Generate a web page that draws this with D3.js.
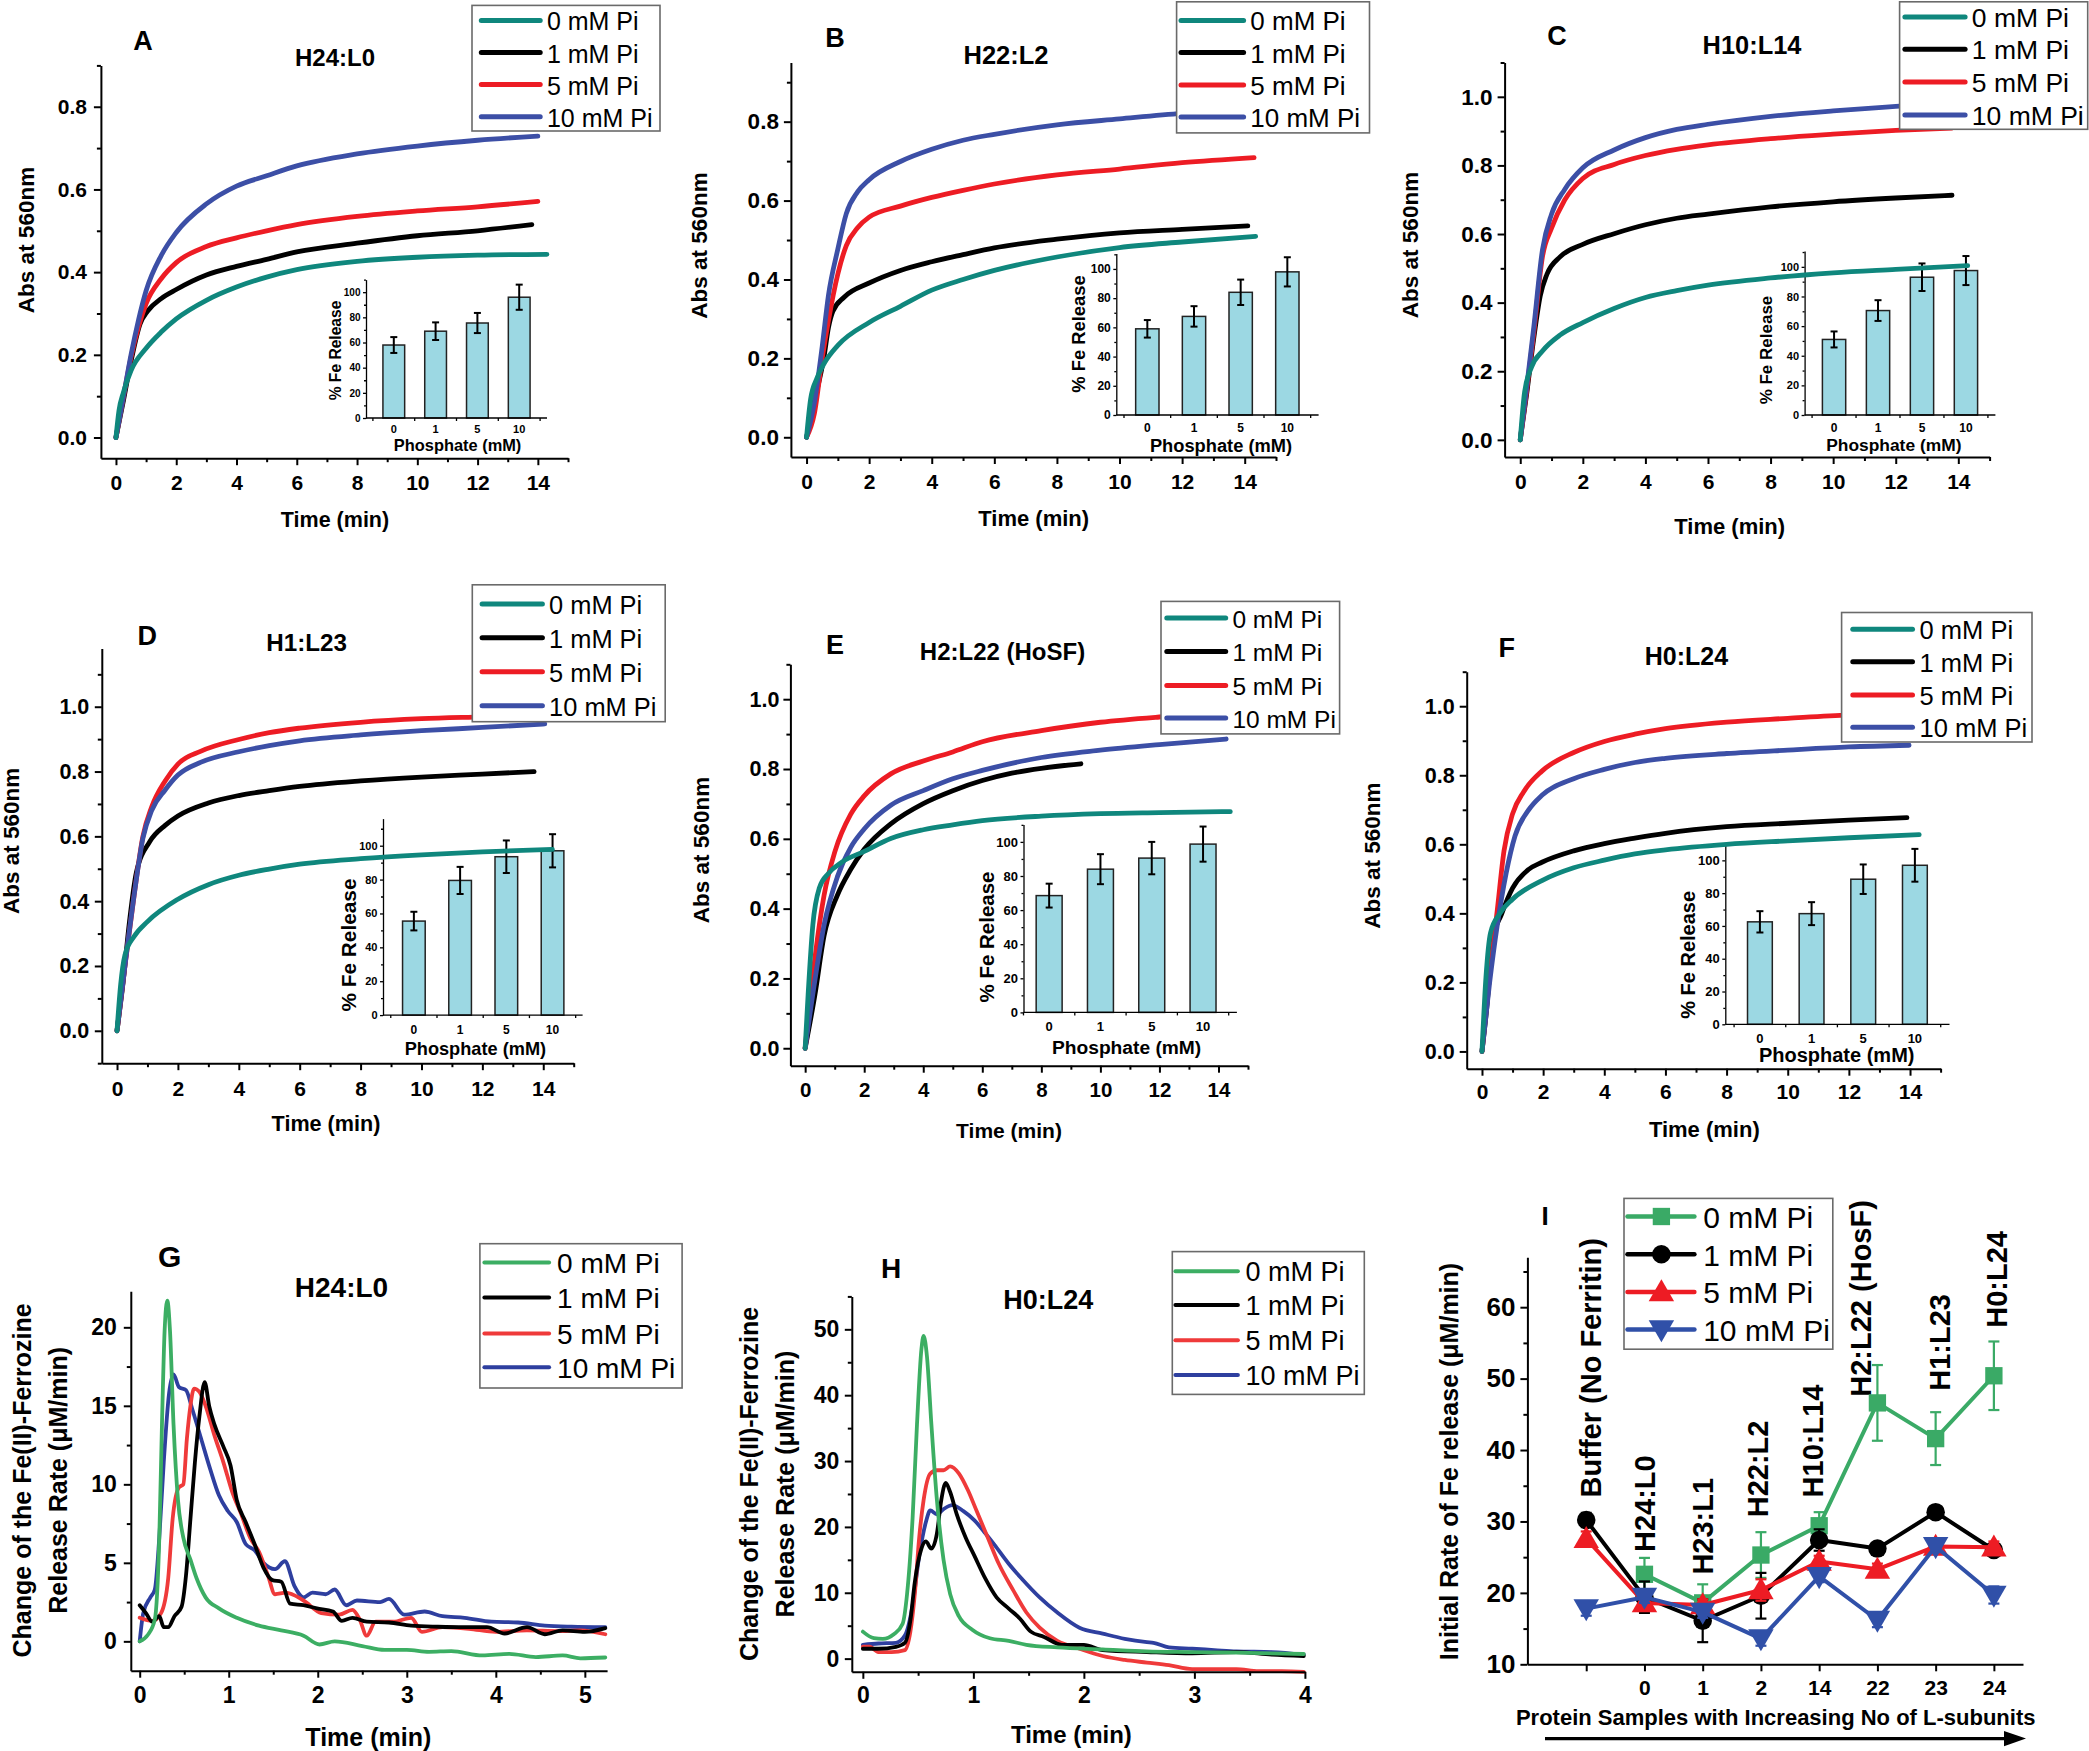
<!DOCTYPE html>
<html><head><meta charset="utf-8">
<script src="https://cdn.jsdelivr.net/npm/d3@7"></script>
<style>
body{margin:0;background:#fff}
svg{display:block}
</style>
</head><body>
<svg id="c" width="2089" height="1751"></svg>
<script>
// ======================= DATA =======================
const piLabels = ["0 mM Pi", "1 mM Pi", "5 mM Pi", "10 mM Pi"];
const phosphateLabels = ["0", "1", "5", "10"];

// Panel A  (H24:L0)  [time (min), Abs 560nm]
const A_pi0 = [[0,0],[0.1,0.065],[0.25,0.11],[0.5,0.162],[1,0.216],[1.5,0.255],[2,0.287],[3,0.332],[4,0.364],[5,0.388],[6,0.406],[8,0.426],[10,0.436],[12,0.441],[14.3,0.443]];
const A_pi1 = [[0,0],[0.25,0.09],[0.5,0.185],[0.8,0.275],[1.05,0.306],[1.5,0.336],[2,0.358],[3,0.393],[4,0.414],[5,0.431],[6,0.449],[8,0.47],[10,0.488],[12,0.5],[13.8,0.515]];
const A_pi5 = [[0,0],[0.25,0.099],[0.5,0.194],[0.75,0.268],[1,0.324],[1.5,0.384],[2,0.423],[3,0.462],[4,0.483],[5,0.5],[6,0.515],[8,0.535],[10,0.548],[12,0.558],[14,0.571]];
const A_pi10 = [[0,0],[0.25,0.1],[0.5,0.2],[0.75,0.285],[1,0.355],[1.5,0.44],[2,0.496],[3,0.565],[4,0.608],[5,0.633],[6,0.657],[8,0.686],[10,0.705],[12,0.719],[14,0.729]];
const A_release = [58, 69, 75.5, 96];
const A_releaseErr = [6.3, 7, 8, 10];

// Panel B  (H22:L2)
const B_pi0 = [[0,0],[0.13,0.097],[0.34,0.151],[0.56,0.187],[1,0.233],[2,0.291],[3,0.332],[4,0.373],[5,0.4],[6,0.423],[8,0.457],[10,0.481],[12,0.495],[14.35,0.509]];
const B_pi1 = [[0,0],[0.25,0.09],[0.56,0.205],[0.7,0.278],[0.84,0.319],[1.2,0.355],[2,0.391],[3,0.423],[4,0.445],[5,0.463],[6,0.48],[8,0.502],[10,0.518],[12,0.527],[14.1,0.536]];
const B_pi5 = [[0,0],[0.25,0.06],[0.5,0.2],[0.7,0.296],[1,0.414],[1.27,0.486],[1.63,0.531],[2,0.558],[3,0.586],[4,0.608],[5,0.626],[6,0.642],[8,0.665],[10,0.68],[12,0.696],[14.3,0.709]];
const B_pi10 = [[0,0],[0.25,0.088],[0.5,0.23],[0.7,0.36],[1,0.477],[1.27,0.567],[1.63,0.622],[2,0.653],[3,0.699],[4,0.73],[5,0.753],[6,0.768],[8,0.792],[10,0.807],[12,0.821],[14,0.83]];
const B_release = [59, 67.5, 84, 98];
const B_releaseErr = [6, 7, 8.7, 10];

// Panel C  (H10:L14)
const C_pi0 = [[0,0],[0.14,0.14],[0.36,0.212],[0.71,0.259],[1.28,0.306],[2,0.342],[3,0.383],[4,0.415],[5,0.435],[6,0.451],[8,0.472],[10,0.487],[12,0.497],[14.3,0.508]];
const C_pi1 = [[0,0],[0.2,0.13],[0.43,0.295],[0.64,0.42],[0.85,0.482],[1.28,0.534],[2,0.57],[3,0.601],[4,0.627],[5,0.646],[6,0.658],[8,0.679],[10,0.694],[12,0.705],[13.8,0.713]];
const C_pi5 = [[0,0],[0.2,0.14],[0.43,0.31],[0.71,0.534],[1,0.617],[1.42,0.699],[2,0.762],[3,0.803],[4,0.829],[5,0.847],[6,0.86],[8,0.878],[10,0.891],[12,0.902],[13.8,0.909]];
const C_pi10 = [[0,0],[0.2,0.15],[0.43,0.326],[0.71,0.554],[1,0.658],[1.42,0.73],[2,0.793],[3,0.845],[4,0.881],[5,0.905],[6,0.92],[8,0.943],[10,0.959],[12,0.972],[14,0.984]];
const C_release = [51, 70.5, 93, 97.5];
const C_releaseErr = [5.4, 7, 9.3, 9.8];

// Panel D  (H1:L23)
const D_pi0 = [[0,0],[0.12,0.143],[0.26,0.234],[0.56,0.291],[1,0.337],[2,0.406],[3,0.451],[4,0.48],[5,0.499],[6,0.514],[8,0.531],[10,0.543],[12,0.552],[14.3,0.56]];
const D_pi1 = [[0,0],[0.2,0.15],[0.41,0.337],[0.63,0.486],[1.07,0.583],[1.58,0.634],[2,0.663],[3,0.703],[4,0.726],[5,0.741],[6,0.754],[8,0.771],[10,0.783],[12,0.792],[13.7,0.8]];
const D_pi5 = [[0,0],[0.26,0.2],[0.56,0.417],[0.85,0.6],[1.14,0.691],[1.58,0.771],[2,0.823],[2.76,0.863],[4,0.899],[5,0.92],[6,0.934],[8,0.952],[10,0.963],[12,0.969],[14,0.975]];
const D_pi10 = [[0,0],[0.26,0.2],[0.56,0.417],[0.85,0.594],[1.14,0.68],[1.58,0.743],[2,0.789],[2.76,0.829],[4,0.861],[5,0.88],[6,0.895],[8,0.913],[10,0.926],[12,0.936],[14.05,0.947]];
const D_release = [55.5, 79.5, 93.5, 97];
const D_releaseErr = [5.5, 8, 9.6, 9.8];

// Panel E  (H2:L22, HoSF)
const E_pi0 = [[0,0],[0.1,0.153],[0.26,0.353],[0.48,0.459],[0.79,0.501],[1.24,0.533],[2,0.564],[2.9,0.601],[4,0.626],[5,0.64],[6,0.652],[8,0.665],[10,0.672],[12,0.675],[14.4,0.678]];
const E_pi1 = [[0,0],[0.33,0.153],[0.64,0.322],[1.09,0.438],[1.54,0.512],[2,0.57],[2.9,0.643],[4,0.701],[5,0.738],[6,0.767],[7,0.788],[8,0.802],[9.34,0.815]];
const E_pi5 = [[0,0],[0.33,0.258],[0.64,0.438],[1.01,0.564],[1.54,0.67],[2,0.723],[2.9,0.786],[4,0.823],[5,0.849],[6,0.878],[8,0.91],[10,0.934],[12,0.949],[14,0.96]];
const E_pi10 = [[0,0],[0.33,0.195],[0.64,0.353],[1.09,0.491],[1.54,0.575],[2,0.628],[2.9,0.696],[4,0.738],[5,0.772],[6,0.796],[8,0.833],[10,0.854],[12,0.87],[14.26,0.886]];
const E_release = [68.5, 84, 90.5, 98.7];
const E_releaseErr = [7, 8.8, 9.5, 10.3];

// Panel F  (H0:L24)
const F_pi0 = [[0,0],[0.13,0.215],[0.28,0.344],[0.57,0.398],[1,0.441],[1.96,0.495],[3,0.532],[4,0.554],[5,0.572],[6,0.584],[8,0.6],[10,0.61],[12,0.619],[14.3,0.628]];
const F_pi1 = [[0,0],[0.15,0.12],[0.35,0.323],[0.64,0.398],[1,0.473],[1.52,0.527],[1.96,0.548],[3,0.581],[4,0.602],[5,0.618],[6,0.632],[8,0.651],[10,0.661],[12,0.67],[13.9,0.677]];
const F_pi5 = [[0,0],[0.25,0.22],[0.5,0.409],[0.72,0.581],[1,0.688],[1.37,0.753],[1.96,0.812],[3,0.866],[4,0.898],[5,0.919],[6,0.935],[8,0.954],[10,0.965],[12,0.975],[14,0.98]];
const F_pi10 = [[0,0],[0.25,0.2],[0.5,0.366],[0.79,0.516],[1.08,0.624],[1.52,0.699],[1.96,0.742],[3,0.79],[4,0.817],[5,0.837],[6,0.849],[8,0.863],[10,0.873],[12,0.882],[13.97,0.887]];
const F_release = [62.5, 67.5, 88.5, 97];
const F_releaseErr = [6.5, 7, 9, 10];

// Panel G  (rate, H24:L0)  [time (min), µM/min]
const G_pi0 = [[0,0],[0.09,0.4],[0.17,1.4],[0.22,6.6],[0.25,13.8],[0.28,19.8],[0.31,21.7],[0.34,19.8],[0.38,13.8],[0.43,9.0],[0.49,6.6],[0.57,5.2],[0.64,4.0],[0.74,2.8],[0.89,2.1],[1.09,1.5],[1.34,1.0],[1.59,0.7],[1.84,0.36],[2.02,-0.2],[2.19,0],[2.5,-0.3],[2.75,-0.55],[3.0,-0.55],[3.25,-0.67],[3.5,-0.62],[3.85,-0.9],[4.15,-0.8],[4.45,-1.0],[4.75,-0.9],[4.95,-1.08],[5.23,-1.03]];
const G_pi1 = [[0,2.3],[0.07,1.8],[0.14,1.25],[0.22,1.6],[0.27,0.9],[0.32,0.9],[0.39,1.6],[0.47,2.2],[0.52,4.2],[0.57,7.8],[0.62,11.4],[0.67,14.3],[0.73,16.5],[0.78,15.0],[0.84,13.8],[0.94,12.4],[1.02,11.2],[1.09,9.0],[1.19,7.6],[1.29,6.2],[1.39,4.7],[1.49,3.9],[1.59,3.8],[1.69,2.4],[1.84,2.3],[1.99,2.1],[2.17,1.9],[2.27,1.3],[2.39,1.5],[2.55,1.25],[2.8,1.2],[3.05,1.0],[3.35,0.93],[3.65,0.9],[3.9,0.9],[4.1,0.5],[4.35,0.9],[4.55,0.45],[4.75,0.7],[5.0,0.6],[5.23,0.84]];
const G_pi5 = [[0,1.5],[0.14,1.3],[0.24,1.8],[0.32,4.0],[0.37,7.8],[0.44,9.8],[0.49,10.0],[0.53,12.9],[0.57,15.0],[0.61,16.1],[0.67,15.9],[0.74,15.0],[0.84,13.1],[0.94,11.4],[1.04,9.5],[1.14,8.1],[1.24,6.6],[1.34,5.7],[1.44,4.2],[1.52,3.0],[1.64,3.1],[1.84,2.6],[2.04,1.8],[2.24,1.7],[2.39,2.0],[2.47,1.4],[2.55,0.36],[2.65,1.25],[2.85,1.25],[3.05,1.5],[3.17,0.6],[3.4,0.9],[3.7,0.8],[4.0,0.6],[4.35,0.7],[4.7,0.65],[4.95,0.7],[5.23,0.45]];
const G_pi10 = [[0,0],[0.04,1.8],[0.12,2.8],[0.17,3.3],[0.22,6.6],[0.27,11.4],[0.33,15.8],[0.38,17.0],[0.44,16.2],[0.52,16.0],[0.59,14.8],[0.69,12.9],[0.79,11.0],[0.89,9.3],[0.99,8.3],[1.09,7.6],[1.19,6.2],[1.29,5.8],[1.39,5.0],[1.52,4.6],[1.63,5.1],[1.74,3.5],[1.84,2.8],[1.94,3.1],[2.09,3.0],[2.19,3.3],[2.32,2.3],[2.44,2.6],[2.7,2.5],[2.8,2.7],[2.97,1.7],[3.2,1.9],[3.4,1.6],[3.65,1.5],[3.95,1.25],[4.25,1.2],[4.55,1.0],[4.85,0.93],[5.23,0.9]];

// Panel H  (rate, H0:L24)
const H_pi0 = [[0,4.1],[0.1,3.1],[0.18,3.0],[0.28,3.7],[0.36,5.3],[0.4,9.8],[0.45,21.3],[0.49,35.6],[0.53,47],[0.55,49],[0.58,45.9],[0.62,35.6],[0.67,24.1],[0.73,15.0],[0.79,9.8],[0.87,6.4],[0.99,4.4],[1.15,3.1],[1.32,2.7],[1.48,2.1],[1.76,1.7],[2.17,1.4],[2.57,1.1],[2.98,1.0],[3.38,0.9],[3.99,0.7]];
const H_pi1 = [[0,1.5],[0.14,1.5],[0.3,1.8],[0.38,2.4],[0.43,5.8],[0.47,11.6],[0.53,16.7],[0.57,17.8],[0.62,16.7],[0.67,19.0],[0.71,24.1],[0.75,26.7],[0.79,25.3],[0.85,21.9],[0.93,18.4],[1.01,15.6],[1.11,12.1],[1.21,9.3],[1.32,7.6],[1.42,6.1],[1.52,4.1],[1.64,3.3],[1.8,2.1],[2.0,2.1],[2.17,1.3],[2.57,1.0],[2.98,0.8],[3.38,1.0],[3.7,0.6],[3.99,0.4]];
const H_pi5 = [[0,1.8],[0.06,1.8],[0.14,1.0],[0.26,1.0],[0.38,1.3],[0.43,4.1],[0.47,9.8],[0.51,18.4],[0.55,24.1],[0.61,28.1],[0.67,28.6],[0.73,28.6],[0.79,29.2],[0.87,28.1],[0.95,25.6],[1.03,22.4],[1.13,18.4],[1.23,14.4],[1.36,10.4],[1.48,7.0],[1.6,4.7],[1.76,2.7],[1.96,1.5],[2.17,0.4],[2.37,-0.2],[2.57,-0.6],[2.77,-1.0],[2.98,-1.6],[3.18,-1.6],[3.38,-1.6],[3.58,-1.9],[3.79,-1.9],[3.99,-2.0]];
const H_pi10 = [[0,2.1],[0.14,2.3],[0.3,2.4],[0.38,3.5],[0.45,8.1],[0.51,15.6],[0.57,20.7],[0.61,22.5],[0.67,21.9],[0.73,22.7],[0.81,23.3],[0.91,22.4],[1.01,21.0],[1.11,19.0],[1.19,17.3],[1.32,14.4],[1.44,12.1],[1.6,9.3],[1.76,7.0],[1.96,4.7],[2.17,3.8],[2.37,3.0],[2.57,2.5],[2.63,2.4],[2.77,1.7],[2.98,1.5],[3.18,1.3],[3.38,1.1],[3.7,1.0],[3.99,0.6]];

// Panel I  (initial rates)
const I_tickLabels = ["", "0", "1", "2", "14", "22", "23", "24"];
const I_samples = ["Buffer (No Ferritin)", "H24:L0", "H23:L1", "H22:L2", "H10:L14", "H2:L22 (HosF)", "H1:L23", "H0:L24"];
const I_pi0 = [null, 22.6, 18.6, 25.3, 29.4, 46.6, 41.6, 50.4];
const I_pi0Err = [null, 2.3, 2.6, 3.2, 1.9, 5.3, 3.7, 4.8];
const I_pi1 = [30.2, 19.4, 16.1, 19.6, 27.4, 26.2, 31.3, 26.0];
const I_pi1Err = [1.0, 2.2, 3.0, 3.2, 1.5, 0.5, 0.5, 0.5];
const I_pi5 = [27.6, 18.6, 18.3, 20.4, 24.4, 23.3, 26.5, 26.4];
const I_pi5Err = [1.0, 0.8, 0.8, 1.5, 0.8, 0.8, 0.8, 0.8];
const I_pi10 = [17.8, 19.4, 17.3, 13.6, 22.3, 16.2, 26.5, 19.7];
const I_pi10Err = [1.0, 0.8, 0.8, 1.0, 0.8, 1.0, 0.8, 1.2];

// ======================= STYLE / LAYOUT =======================
const FONT = "'Liberation Sans', Arial, Helvetica, sans-serif";
const colAF = ["#0f877d", "#000000", "#ed1c24", "#3c4fa6"];
const colGH = ["#3cae63", "#000000", "#ef3a3a", "#2e3f9f"];
const colI = ["#3aaa66", "#000000", "#ed1c24", "#3050a8"];
const barFill = "#9cd8e3";

const svg = d3.select("#c");
svg.append("rect").attr("width", 2089).attr("height", 1751).attr("fill", "#fff");

function txt(g, x, y, s, o = {}) {
  const t = g.append("text").attr("x", x).attr("y", y).text(s)
    .attr("font-family", FONT)
    .attr("font-size", o.fs || 20)
    .attr("font-weight", o.w || "bold")
    .attr("text-anchor", o.anchor || "middle")
    .attr("dominant-baseline", o.base || "central")
    .attr("fill", "#000");
  if (o.rot) t.attr("transform", `rotate(${o.rot},${x},${y})`);
  return t;
}

function styleAxis(a, sw, fs) {
  a.attr("font-family", FONT).attr("font-size", fs);
  a.select(".domain").attr("stroke", "#000").attr("stroke-width", sw);
  a.selectAll(".tick line").attr("stroke", "#000").attr("stroke-width", sw);
  a.selectAll(".tick text").attr("fill", "#000").attr("font-weight", "bold");
}

function yAxis(g, y, xPos, major, minor, fmt, fs, pad, tl = 7, ml = 4, sw = 2) {
  const a = g.append("g").attr("transform", `translate(${xPos},0)`)
    .call(d3.axisLeft(y).tickValues(major).tickSize(tl).tickSizeOuter(0).tickPadding(pad).tickFormat(fmt));
  styleAxis(a, sw, fs);
  const m = g.append("g").attr("transform", `translate(${xPos},0)`)
    .call(d3.axisLeft(y).tickValues(minor).tickSize(ml).tickFormat(""));
  m.select(".domain").remove();
  m.selectAll(".tick line").attr("stroke", "#000").attr("stroke-width", sw);
}

function xAxis(g, x, yPos, major, minor, fmt, fs, off, tl = 7, ml = 4, sw = 2) {
  const pad = off - tl - 0.36 * fs;
  const a = g.append("g").attr("transform", `translate(0,${yPos})`)
    .call(d3.axisBottom(x).tickValues(major).tickSize(tl).tickSizeOuter(0).tickPadding(pad).tickFormat(fmt));
  styleAxis(a, sw, fs);
  const m = g.append("g").attr("transform", `translate(0,${yPos})`)
    .call(d3.axisBottom(x).tickValues(minor).tickSize(ml).tickFormat(""));
  m.select(".domain").remove();
  m.selectAll(".tick line").attr("stroke", "#000").attr("stroke-width", sw);
}

function legend(g, L, colors, lw) {
  g.append("rect").attr("x", L.x0).attr("y", L.y0).attr("width", L.x1 - L.x0).attr("height", L.y1 - L.y0)
    .attr("fill", "#fff").attr("stroke", "#6a6a6a").attr("stroke-width", 1.6);
  piLabels.forEach((lab, i) => {
    g.append("line").attr("x1", L.sx0).attr("x2", L.sx1).attr("y1", L.rows[i]).attr("y2", L.rows[i])
      .attr("stroke", colors[i]).attr("stroke-width", lw).attr("stroke-linecap", "round");
    txt(g, L.tx, L.rows[i] + 1, lab, { fs: L.fs, w: "normal", anchor: "start" });
  });
}

function inset(g, I, vals, errs) {
  const x = d3.scaleLinear().domain(I.xDom).range([I.L, I.R]);
  const y = d3.scaleLinear().domain([0, I.top]).range([I.B, I.T]);
  const bw = I.bw * (x(1) - x(0));
  const idx = d3.range(vals.length);
  g.selectAll(null).data(idx).enter().append("rect")
    .attr("x", i => x(i) - bw / 2).attr("y", i => y(vals[i]))
    .attr("width", bw).attr("height", i => y(0) - y(vals[i]))
    .attr("fill", barFill).attr("stroke", "#222").attr("stroke-width", 1.5);
  idx.forEach(i => {
    const cx = x(i), yt = y(vals[i] + errs[i]), yb = y(vals[i] - errs[i]);
    g.append("line").attr("x1", cx).attr("x2", cx).attr("y1", yt).attr("y2", yb).attr("stroke", "#000").attr("stroke-width", 2);
    [yt, yb].forEach(yy => g.append("line").attr("x1", cx - 3.5).attr("x2", cx + 3.5).attr("y1", yy).attr("y2", yy).attr("stroke", "#000").attr("stroke-width", 2));
  });
  yAxis(g, y, I.L, [0, 20, 40, 60, 80, 100], [10, 30, 50, 70, 90, 110].filter(v => v <= I.top), d3.format("d"), I.ytfs, 2.5, 3, 2, 1.3);
  g.append("line").attr("x1", I.L).attr("x2", I.R).attr("y1", I.B).attr("y2", I.B).attr("stroke", "#000").attr("stroke-width", 1.3);
  [-0.5, 0.5, 1.5, 2.5, 3.5].forEach(v => {
    if (x(v) >= I.L - 0.5 && x(v) <= I.R + 0.5)
      g.append("line").attr("x1", x(v)).attr("x2", x(v)).attr("y1", I.B).attr("y2", I.B + 3).attr("stroke", "#000").attr("stroke-width", 1.3);
  });
  phosphateLabels.forEach((lab, i) => txt(g, x(i), I.xly, lab, { fs: I.xtfs }));
  txt(g, I.xt[0], I.xt[1], "Phosphate (mM)", { fs: I.xt[2] });
  txt(g, I.yt[0], I.yt[1], "% Fe Release", { fs: I.yt[2], rot: -90 });
}

const kinetic = [
  { letter: "A", title: "H24:L0", series: [A_pi0, A_pi1, A_pi5, A_pi10], rel: A_release, err: A_releaseErr,
    L: 100.9, R: 568, B: 458.2, T: 65.4, yDom: [-0.05, 0.9], yMax: 0.8,
    title_: [335, 57, 24], letter_: [143, 41, 27], ylab: [26.8, 240, 22.5], xlab: [335, 519.6, 21.5],
    ytfs: 21, ypad: 7, xtfs: 21, xoff: 24,
    leg: { x0: 472, y0: 5.4, x1: 660, y1: 131, rows: [20.4, 52.5, 84.6, 116.8], sx0: 481.3, sx1: 540.2, tx: 546.9, fs: 25 },
    ins: { L: 366, R: 547, B: 418, T: 279.6, top: 110, xDom: [-0.665, 3.665], bw: 0.52, ytfs: 10, xtfs: 11, xly: 428.6, xt: [457.6, 444.6, 16.4], yt: [335, 350.5, 15.6] } },
  { letter: "B", title: "H22:L2", series: [B_pi0, B_pi1, B_pi5, B_pi10], rel: B_release, err: B_releaseErr,
    L: 790.9, R: 1276, B: 457, T: 62.5, yDom: [-0.05, 0.95], yMax: 0.8,
    title_: [1006, 55.4, 25.5], letter_: [835, 37.5, 27], ylab: [699, 245.5, 22.5], xlab: [1033.7, 518, 22],
    ytfs: 22.5, ypad: 5, xtfs: 21, xoff: 24.4,
    leg: { x0: 1176.6, y0: 1.8, x1: 1369.5, y1: 132.9, rows: [20.4, 52.5, 85, 117.1], sx0: 1181, sx1: 1243.6, tx: 1250.3, fs: 26 },
    ins: { L: 1116.3, R: 1318.6, B: 415, T: 253.6, top: 110.5, xDom: [-0.665, 3.67], bw: 0.5, ytfs: 12, xtfs: 12, xly: 427.5, xt: [1221, 445.7, 18.3], yt: [1078.8, 334, 18.4] } },
  { letter: "C", title: "H10:L14", series: [C_pi0, C_pi1, C_pi5, C_pi10], rel: C_release, err: C_releaseErr,
    L: 1504.6, R: 1989.6, B: 457, T: 62.5, yDom: [-0.05, 1.1], yMax: 1.0,
    title_: [1752, 44.6, 25.4], letter_: [1557, 35.7, 27], ylab: [1410, 245, 22.5], xlab: [1729.7, 526.8, 22],
    ytfs: 22.5, ypad: 5, xtfs: 21, xoff: 24.4,
    leg: { x0: 1899.6, y0: 1.8, x1: 2087.7, y1: 129.3, rows: [17.1, 49.3, 82.1, 115], sx0: 1904.9, sx1: 1965.1, tx: 1971.8, fs: 26.5 },
    ins: { L: 1804.6, R: 1995.4, B: 415, T: 251, top: 110.7, xDom: [-0.67, 3.67], bw: 0.53, ytfs: 11, xtfs: 12, xly: 427.5, xt: [1893.8, 444.6, 17.4], yt: [1766.7, 350, 17] } },
  { letter: "D", title: "H1:L23", series: [D_pi0, D_pi1, D_pi5, D_pi10], rel: D_release, err: D_releaseErr,
    L: 101.8, R: 573.7, B: 1063.2, T: 648.4, yDom: [-0.1, 1.18], yMax: 1.0,
    title_: [306.7, 642.1, 24.2], letter_: [147.3, 635.8, 27], ylab: [11.2, 840.9, 22.5], xlab: [326, 1123.8, 21.6],
    ytfs: 21.5, ypad: 5.5, xtfs: 21, xoff: 25,
    leg: { x0: 472.3, y0: 584.8, x1: 665.2, y1: 721.7, rows: [604, 637.7, 671.7, 705.8], sx0: 482.1, sx1: 542.4, tx: 549.1, fs: 25.4 },
    ins: { L: 383, R: 582.6, B: 1015.1, T: 818.6, top: 116, xDom: [-0.668, 3.65], bw: 0.49, ytfs: 11, xtfs: 12, xly: 1029.5, xt: [475.4, 1049, 18.2], yt: [348.2, 945, 20.8] } },
  { letter: "E", title: "H2:L22 (HoSF)", series: [E_pi0, E_pi1, E_pi5, E_pi10], rel: E_release, err: E_releaseErr,
    L: 790.4, R: 1248, B: 1065.7, T: 664.3, yDom: [-0.05, 1.1], yMax: 1.0,
    title_: [1002.5, 651.4, 24], letter_: [835, 645, 27], ylab: [701, 850, 22.5], xlab: [1009, 1130.5, 21],
    ytfs: 21.5, ypad: 4, xtfs: 20.5, xoff: 24,
    leg: { x0: 1161, y0: 601.4, x1: 1339.6, y1: 733.9, rows: [618.1, 651.4, 685.4, 718], sx0: 1166.8, sx1: 1225.7, tx: 1232.4, fs: 24.5 },
    ins: { L: 1023.5, R: 1236.9, B: 1012.4, T: 824.5, top: 110.2, xDom: [-0.5, 3.66], bw: 0.506, ytfs: 13, xtfs: 13, xly: 1026.9, xt: [1126.6, 1047.3, 19.2], yt: [986.9, 937, 20.5] } },
  { letter: "F", title: "H0:L24", series: [F_pi0, F_pi1, F_pi5, F_pi10], rel: F_release, err: F_releaseErr,
    L: 1466.7, R: 1940.6, B: 1068.7, T: 671.7, yDom: [-0.05, 1.1], yMax: 1.0,
    title_: [1686.5, 655.8, 25], letter_: [1506.8, 648.4, 27], ylab: [1373, 855.7, 22.5], xlab: [1704.3, 1129.4, 22],
    ytfs: 21.5, ypad: 5, xtfs: 21, xoff: 23,
    leg: { x0: 1841.6, y0: 612.5, x1: 2032, y1: 742, rows: [629.2, 661.7, 695, 727.2], sx0: 1852.8, sx1: 1912.5, tx: 1919.6, fs: 25.5 },
    ins: { L: 1725.3, R: 1949.5, B: 1024.3, T: 843.8, top: 110.1, xDom: [-0.67, 3.67], bw: 0.48, ytfs: 13, xtfs: 13, xly: 1038, xt: [1836.7, 1054.7, 20], yt: [1687.8, 954.8, 20] } }
];

kinetic.forEach(p => {
  const g = svg.append("g");
  const x = d3.scaleLinear().domain([-0.5, 15]).range([p.L, p.R]);
  const y = d3.scaleLinear().domain(p.yDom).range([p.B, p.T]);
  inset(g, p.ins, p.rel, p.err);
  const line = d3.line().x(d => x(d[0])).y(d => y(d[1])).curve(d3.curveMonotoneX);
  [1, 2, 3, 0].forEach(i => {
    g.append("path").attr("d", line(p.series[i])).attr("fill", "none")
      .attr("stroke", colAF[i]).attr("stroke-width", 4.8)
      .attr("stroke-linecap", "round").attr("stroke-linejoin", "round");
  });
  const major = d3.range(0, p.yMax + 0.001, 0.2);
  const minor = d3.range(0.1, p.yDom[1] + 0.001, 0.2).concat(p.yDom[0] <= -0.1 ? [-0.1] : []);
  yAxis(g, y, p.L, major, minor, d3.format(".1f"), p.ytfs, p.ypad);
  xAxis(g, x, p.B, d3.range(0, 15, 2), d3.range(1, 16, 2), d3.format("d"), p.xtfs, p.xoff);
  txt(g, p.title_[0], p.title_[1], p.title, { fs: p.title_[2] });
  txt(g, p.letter_[0], p.letter_[1], p.letter, { fs: p.letter_[2] });
  txt(g, p.ylab[0], p.ylab[1], "Abs at 560nm", { fs: p.ylab[2], rot: -90 });
  txt(g, p.xlab[0], p.xlab[1], "Time (min)", { fs: p.xlab[2] });
  legend(g, p.leg, colAF, 5);
});

const rate = [
  { letter: "G", title: "H24:L0", series: [G_pi0, G_pi1, G_pi5, G_pi10],
    L: 130.8, R: 607.1, B: 1670.7, T: 1291.2, xDom: [-0.1, 5.25], yDom: [-1.87, 22.3],
    yMajor: [0, 5, 10, 15, 20], yMinor: [2.5, 7.5, 12.5, 17.5], xMajor: [0, 1, 2, 3, 4, 5], xMinor: [0.5, 1.5, 2.5, 3.5, 4.5],
    title_: [341.5, 1287, 28], letter_: [169.6, 1256, 30], ylabX: [22.3, 58], ylabY: 1480.4, ylabFs: 25, xlab: [368.3, 1736.7, 25],
    ytfs: 23, ypad: 7, xtfs: 23, xoff: 24.3,
    leg: { x0: 479.9, y0: 1243.7, x1: 682.1, y1: 1388, rows: [1262.5, 1297.6, 1333.4, 1367.3], sx0: 484.4, sx1: 549.1, tx: 557.1, fs: 28 } },
  { letter: "H", title: "H0:L24", series: [H_pi0, H_pi1, H_pi5, H_pi10],
    L: 851.8, R: 1304.9, B: 1671.8, T: 1296.4, xDom: [-0.1, 4.0], yDom: [-2, 55],
    yMajor: [0, 10, 20, 30, 40, 50], yMinor: [5, 15, 25, 35, 45, 55], xMajor: [0, 1, 2, 3, 4], xMinor: [0.5, 1.5, 2.5, 3.5],
    title_: [1048.2, 1300.2, 27], letter_: [891, 1268, 28], ylabX: [749, 784.8], ylabY: 1484, ylabFs: 25, xlab: [1071.4, 1734.8, 24],
    ytfs: 23, ypad: 5.5, xtfs: 23, xoff: 23.4,
    leg: { x0: 1172.3, y0: 1251.6, x1: 1364.3, y1: 1394.4, rows: [1271.2, 1305.1, 1340.2, 1374.9], sx0: 1175.4, sx1: 1237.9, tx: 1245.5, fs: 27 } }
];

rate.forEach(p => {
  const g = svg.append("g");
  const x = d3.scaleLinear().domain(p.xDom).range([p.L, p.R]);
  const y = d3.scaleLinear().domain(p.yDom).range([p.B, p.T]);
  const line = d3.line().x(d => x(d[0])).y(d => y(d[1])).curve(d3.curveMonotoneX);
  [3, 2, 1, 0].forEach(i => {
    g.append("path").attr("d", line(p.series[i])).attr("fill", "none")
      .attr("stroke", colGH[i]).attr("stroke-width", 3.8)
      .attr("stroke-linecap", "round").attr("stroke-linejoin", "round");
  });
  yAxis(g, y, p.L, p.yMajor, p.yMinor, d3.format("d"), p.ytfs, p.ypad);
  xAxis(g, x, p.B, p.xMajor, p.xMinor, d3.format("d"), p.xtfs, p.xoff);
  txt(g, p.title_[0], p.title_[1], p.title, { fs: p.title_[2] });
  txt(g, p.letter_[0], p.letter_[1], p.letter, { fs: p.letter_[2] });
  txt(g, p.ylabX[0], p.ylabY, "Change of the Fe(II)-Ferrozine", { fs: p.ylabFs, rot: -90 });
  txt(g, p.ylabX[1], p.ylabY, "Release Rate (\u03bcM/min)", { fs: p.ylabFs, rot: -90 });
  txt(g, p.xlab[0], p.xlab[1], "Time (min)", { fs: p.xlab[2] });
  legend(g, p.leg, colGH, 4);
});

// ---------- Panel I ----------
(function () {
  const g = svg.append("g");
  const P = { L: 1527.4, R: 2023, B: 1664.3, T: 1257.2 };
  const x = d3.scaleLinear().domain([-1.01, 7.5]).range([P.L, P.R]);
  const y = d3.scaleLinear().domain([10, 67]).range([P.B, P.T]);
  const idx = d3.range(I_tickLabels.length);

  const labPos = [[1591.1, 1497.4], [1645.2, 1552], [1703.2, 1574.6], [1758, 1517.3], [1813, 1497.4], [1861.3, 1396.7], [1940.4, 1390.7], [1997.5, 1327.7]];
  I_samples.forEach((s, i) => txt(g, labPos[i][0], labPos[i][1], s, { fs: 29, anchor: "start", rot: -90 }));

  const series = [I_pi0, I_pi1, I_pi5, I_pi10];
  const errs = [I_pi0Err, I_pi1Err, I_pi5Err, I_pi10Err];
  const shapes = [d3.symbolSquare, d3.symbolCircle, d3.symbolTriangle, d3.symbolTriangle];
  const sizes = [300, 270, 280, 280];
  const line = d3.line().defined(d => d[1] != null).x(d => x(d[0])).y(d => y(d[1]));
  const sym = (i) => d3.symbol().type(shapes[i]).size(sizes[i]);

  series.forEach((s, k) => {
    g.append("path").attr("d", line(idx.map(i => [i, s[i]]))).attr("fill", "none")
      .attr("stroke", colI[k]).attr("stroke-width", 4).attr("stroke-linejoin", "round");
    idx.forEach(i => {
      if (s[i] == null) return;
      const e = errs[k][i], cx = x(i);
      const yt = y(s[i] + e), yb = y(s[i] - e);
      g.append("line").attr("x1", cx).attr("x2", cx).attr("y1", yt).attr("y2", yb).attr("stroke", colI[k]).attr("stroke-width", 2.2);
      [yt, yb].forEach(yy => g.append("line").attr("x1", cx - 5.5).attr("x2", cx + 5.5).attr("y1", yy).attr("y2", yy).attr("stroke", colI[k]).attr("stroke-width", 2.2));
    });
    g.selectAll(null).data(idx.filter(i => s[i] != null)).enter().append("path")
      .attr("d", sym(k))
      .attr("transform", i => `translate(${x(i)},${y(s[i]) + (k === 2 ? 2 : k === 3 ? -2 : 0)})` + (k === 3 ? " rotate(180)" : ""))
      .attr("fill", colI[k]);
  });

  yAxis(g, y, P.L, [10, 20, 30, 40, 50, 60], [15, 25, 35, 45, 55, 65], d3.format("d"), 26, 5);
  const pad = 23.4 - 7 - 0.36 * 21;
  const a = g.append("g").attr("transform", `translate(0,${P.B})`)
    .call(d3.axisBottom(x).tickValues(idx).tickSize(7).tickSizeOuter(0).tickPadding(pad).tickFormat(i => I_tickLabels[i]));
  styleAxis(a, 2, 21);

  txt(g, 1545, 1215.8, "I", { fs: 26 });
  txt(g, 1449.2, 1461.5, "Initial Rate of Fe release (\u03bcM/min)", { fs: 25, rot: -90 });
  txt(g, 1775.7, 1717.8, "Protein Samples with Increasing No of L-subunits", { fs: 22 });
  g.append("line").attr("x1", 1545).attr("x2", 2008).attr("y1", 1738.6).attr("y2", 1738.6).attr("stroke", "#000").attr("stroke-width", 3.2);
  g.append("path").attr("d", "M2026,1738.6 L2004,1731 L2004,1746.2 Z").attr("fill", "#000");

  const L = { x0: 1624, y0: 1198.4, x1: 1832.8, y1: 1349.2, rows: [1216.5, 1254.2, 1291.9, 1329.6], sx0: 1627.5, sx1: 1694.4, mx: 1661.4, tx: 1703.2, fs: 30 };
  g.append("rect").attr("x", L.x0).attr("y", L.y0).attr("width", L.x1 - L.x0).attr("height", L.y1 - L.y0)
    .attr("fill", "#fff").attr("stroke", "#6a6a6a").attr("stroke-width", 1.6);
  piLabels.forEach((lab, k) => {
    g.append("line").attr("x1", L.sx0).attr("x2", L.sx1).attr("y1", L.rows[k]).attr("y2", L.rows[k])
      .attr("stroke", colI[k]).attr("stroke-width", 4.5).attr("stroke-linecap", "round");
    g.append("path").attr("d", sym(k))
      .attr("transform", `translate(${L.mx},${L.rows[k] + (k === 2 ? 2 : k === 3 ? -2 : 0)})` + (k === 3 ? " rotate(180)" : ""))
      .attr("fill", colI[k]);
    txt(g, L.tx, L.rows[k] + 1, lab, { fs: L.fs, w: "normal", anchor: "start" });
  });
})();
</script>
</body></html>
